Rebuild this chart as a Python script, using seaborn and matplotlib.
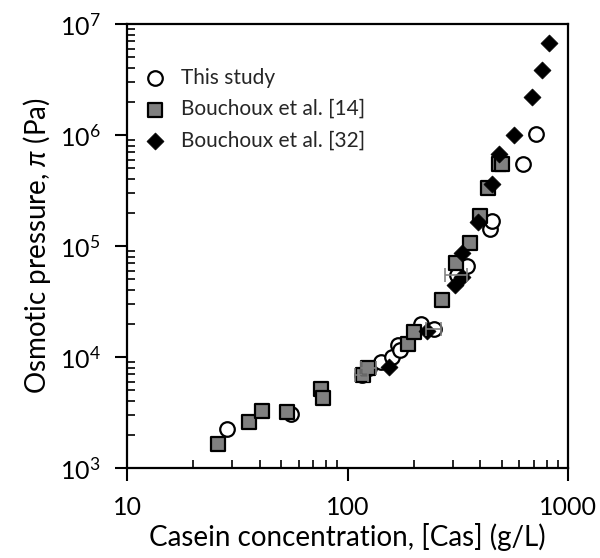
import numpy as np
import pandas as pd
import matplotlib
matplotlib.use("Agg")
import matplotlib.pyplot as plt
import seaborn as sns
from matplotlib.ticker import LogLocator, LogFormatterSciNotation, NullFormatter

# ---- data ----
study_x = [28.3, 55.2, 116, 125, 141.4, 158.7, 170, 173, 214.8, 246.6, 313, 347.1, 442.6, 450.8, 623, 714]
study_y = [2234, 3048, 6890, 7900, 9078, 9940, 12820, 11560, 19820, 17860, 54830, 66070, 141300, 169100, 544600, 1020000]
study_xerr = [0, 0, 8, 10, 0, 0, 0, 0, 0, 20, 37, 0, 0, 0, 0, 0]

b14_x = [25.9, 35.6, 41.1, 52.9, 75.9, 77.2, 118, 124, 188.7, 200.9, 269, 310.5, 359.4, 399, 435, 488, 502]
b14_y = [1635, 2594, 3262, 3214, 5117, 4296, 6890, 7900, 13090, 16690, 32620, 70730, 105700, 186300, 331000, 550000, 548000]

b32_x = [154.8, 230, 307.3, 329.6, 329.6, 391.8, 450.8, 486.6, 568.7, 689, 760, 822]
b32_y = [8183, 17260, 44530, 52920, 87100, 165600, 361900, 670000, 1000000, 2190000, 3850000, 6790000]

labels = ["This study", "Bouchoux et al. [14]", "Bouchoux et al. [32]"]
x_label = "Casein concentration, [Cas] (g/L)"
y_label = "Osmotic pressure, $\\pi$ (Pa)"

sns.set_theme(style="white")
FONT = "Lato"
plt.rcParams["font.family"] = [FONT, "DejaVu Sans"]
plt.rcParams["mathtext.fontset"] = "custom"
plt.rcParams["mathtext.rm"] = FONT
plt.rcParams["mathtext.it"] = FONT + ":italic"

fig = plt.figure(figsize=(6.0, 5.58), dpi=100)
ax = fig.add_axes([0.2117, 0.1613, 0.735, 0.7957])

df_s = pd.DataFrame({"x": study_x, "y": study_y, "xerr": study_xerr})
df_14 = pd.DataFrame({"x": b14_x, "y": b14_y})
df_32 = pd.DataFrame({"x": b32_x, "y": b32_y})

sns.scatterplot(data=df_s, x="x", y="y", ax=ax, marker="o", s=110,
                facecolor="white", edgecolor="black", linewidth=1.6,
                label=labels[0], zorder=2)
sns.scatterplot(data=df_14, x="x", y="y", ax=ax, marker="s", s=100,
                color="#808080", edgecolor="black", linewidth=1.6,
                label=labels[1], zorder=3)
sns.scatterplot(data=df_32, x="x", y="y", ax=ax, marker="D", s=75,
                color="black", edgecolor="black", linewidth=0.5,
                label=labels[2], zorder=4)

# error bars (study) only where an error was read
eb = df_s[df_s["xerr"] > 0]
ax.errorbar(eb["x"], eb["y"], xerr=eb["xerr"], fmt="none", ecolor="#808080",
            elinewidth=1.3, capsize=5, capthick=1.3, zorder=5, alpha=0.9)

ax.set_xscale("log")
ax.set_yscale("log")
ax.set_xlim(10, 1000)
ax.set_ylim(1e3, 1e7)

ax.xaxis.set_major_locator(LogLocator(base=10, numticks=10))
ax.xaxis.set_minor_locator(LogLocator(base=10, subs=np.arange(2, 10), numticks=20))
ax.yaxis.set_major_locator(LogLocator(base=10, numticks=10))
ax.yaxis.set_minor_locator(LogLocator(base=10, subs=np.arange(2, 10), numticks=20))
ax.xaxis.set_major_formatter(matplotlib.ticker.FuncFormatter(lambda v, p: f"{int(round(v))}"))
ax.yaxis.set_major_formatter(LogFormatterSciNotation())
ax.xaxis.set_minor_formatter(NullFormatter())
ax.yaxis.set_minor_formatter(NullFormatter())

ax.tick_params(which="major", direction="out", length=9, width=1.5, color="black",
               labelsize=18, labelcolor="black", bottom=True, left=True, top=False, right=False)
ax.tick_params(axis="x", which="major", pad=11)
ax.tick_params(axis="y", which="major", pad=10)
ax.tick_params(which="minor", direction="in", length=6, width=1.2, color="black",
               bottom=True, left=True, top=False, right=False)

for sp in ax.spines.values():
    sp.set_visible(True)
    sp.set_color("black")
    sp.set_linewidth(1.6)

ax.set_xlabel(x_label, fontsize=20, color="black", labelpad=3)
ax.set_ylabel(y_label, fontsize=20, color="black", labelpad=5)

leg = ax.legend(loc="upper left", bbox_to_anchor=(0.0, 0.93), frameon=False,
                fontsize=15, handletextpad=0.5, labelspacing=0.55, borderaxespad=0.2,
                handlelength=1.5)

fig.savefig("out.png", dpi=100)
